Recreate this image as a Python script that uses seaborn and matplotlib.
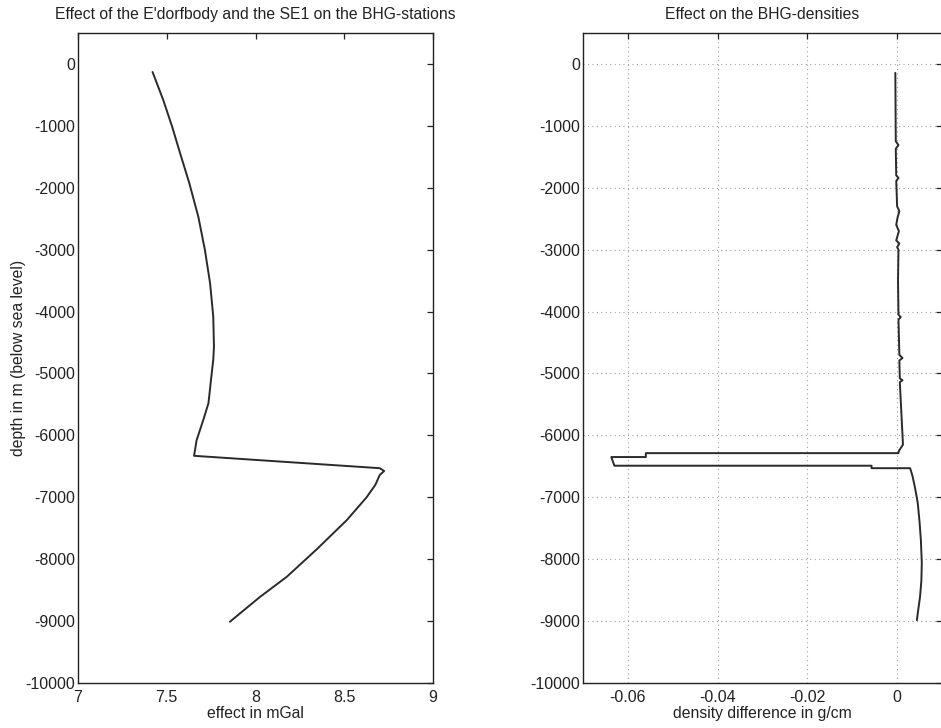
import numpy as np
import pandas as pd
import matplotlib
matplotlib.use("Agg")
import matplotlib.pyplot as plt
import seaborn as sns

# ---- data: left panel (effect on BHG stations) ----
effect_mgal = [7.42, 7.48, 7.53, 7.575, 7.627, 7.678, 7.715, 7.744, 7.762, 7.766,
               7.762, 7.749, 7.735, 7.706, 7.668, 7.654, 8.70, 8.725, 8.70, 8.675,
               8.626, 8.514, 8.345, 8.176, 8.025, 7.856]
effect_depth = [-130, -580, -1010, -1440, -1925, -2470, -3005, -3540, -4080, -4570,
                -4780, -5110, -5480, -5750, -6080, -6330, -6530, -6575, -6640, -6800,
                -7000, -7370, -7840, -8285, -8610, -9010]

# ---- data: right panel (effect on BHG densities) ----
density_diff = [-0.0004, -0.0003, 0.0003, -0.0003, -0.0002, 0.0003, -0.0002, 0.0,
                0.0005, 0.0001, -0.0002, 0.0004, 0.0, -0.0002, 0.0005, 0.0, 0.0003,
                0.0002, 0.0003, 0.0008, 0.0003, 0.0005, 0.0012, 0.0005, 0.0006,
                0.0012, 0.0006, 0.0012, 0.0013, 0.0004, 0.0003, -0.056, -0.056,
                -0.0637, -0.063, -0.0057, -0.0057, 0.0029, 0.0034, 0.0040, 0.0046,
                0.0050, 0.0053, 0.0055, 0.0054, 0.0051, 0.0047, 0.0044]
density_depth = [-145, -1250, -1310, -1370, -1800, -1842, -1890, -2300, -2380, -2480,
                 -2600, -2700, -2800, -2850, -2900, -2960, -3000, -3500, -4050, -4090,
                 -4130, -4700, -4750, -4790, -5080, -5110, -5140, -6000, -6150, -6250,
                 -6287, -6287, -6350, -6350, -6490, -6490, -6530, -6530, -6650, -6850,
                 -7094, -7400, -7700, -8064, -8350, -8613, -8820, -8985]

depth_ticks = list(range(0, -10001, -1000))
left_xticks = [7, 7.5, 8, 8.5, 9]
left_xlabels = ["7", "7.5", "8", "8.5", "9"]
right_xticks = [-0.06, -0.04, -0.02, 0]
right_xlabels = ["-0.06", "-0.04", "-0.02", "0"]

df_left = pd.DataFrame({"x": effect_mgal, "y": effect_depth})
df_right = pd.DataFrame({"x": density_diff, "y": density_depth})

sns.set_theme(style="white")
plt.rcParams["font.family"] = ["Liberation Sans", "DejaVu Sans"]
plt.rcParams["axes.unicode_minus"] = False

W, H = 941, 728
fig = plt.figure(figsize=(W / 100, H / 100), dpi=100)
ax1 = fig.add_axes([78 / W, 45 / H, 355 / W, 650 / H])
ax2 = fig.add_axes([583 / W, 45 / H, 359 / W, 650 / H])

line_kw = dict(color="#2a2a2a", linewidth=1.4, sort=False, estimator=None)
sns.lineplot(data=df_left, x="x", y="y", ax=ax1, **line_kw)
sns.lineplot(data=df_right, x="x", y="y", ax=ax2, **line_kw)

ax1.set_xlim(7, 9)
ax1.set_xticks(left_xticks)
ax1.set_xticklabels(left_xlabels)
ax2.set_xlim(-0.07, 0.01)
ax2.set_xticks(right_xticks)
ax2.set_xticklabels(right_xlabels)

for ax in (ax1, ax2):
    ax.set_ylim(-10000, 500)
    ax.set_yticks(depth_ticks)
    ax.set_yticklabels([str(v) for v in depth_ticks])
    ax.tick_params(direction="in", length=4, width=0.9, top=True, right=True,
                   labelsize=11.5, colors="#222222")
    ax.tick_params(axis="x", pad=5)
    ax.tick_params(axis="y", pad=2)
    for s in ax.spines.values():
        s.set_color("#222222")
        s.set_linewidth(1.0)
        s.set_visible(True)
    ax.set_facecolor("white")

ax2.grid(True, linestyle=(0, (1, 3)), color="#a0a0a0", linewidth=0.8)

ax1.set_title("Effect of the E'dorfbody and the SE1 on the BHG-stations",
              fontsize=11.3, pad=10, color="#222222")
ax2.set_title("Effect on the BHG-densities", fontsize=11.3, pad=10, color="#222222")
ax1.set_xlabel("effect in mGal", fontsize=11.3, labelpad=1, color="#222222")
ax2.set_xlabel("density difference in g/cm", fontsize=11.3, labelpad=1, color="#222222")
ax1.set_ylabel("depth in m (below sea level)", fontsize=11.3, color="#222222")
ax1.yaxis.set_label_coords(-52 / 355, 0.5)
ax2.set_ylabel("")

fig.savefig("out.png", dpi=100, facecolor="white")
